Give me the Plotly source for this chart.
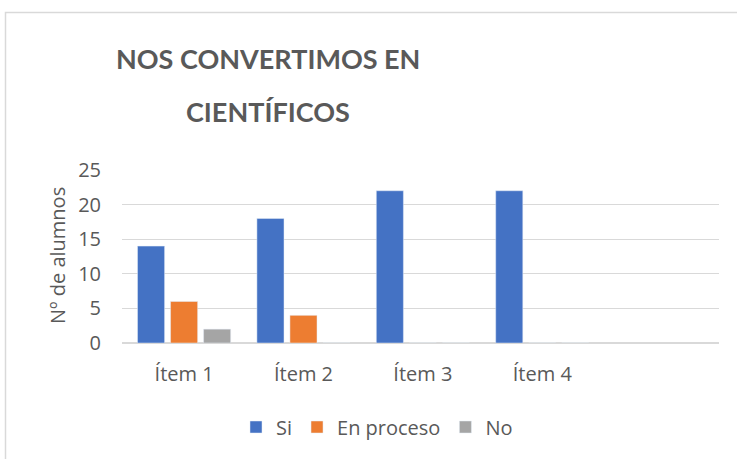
import plotly.graph_objects as go

categories = ["Ítem 1", "Ítem 2", "Ítem 3", "Ítem 4"]
si = [14, 18, 22, 22]
en_proceso = [6, 4, 0, 0]
no = [2, 0, 0, 0]
y_ticks = [0, 5, 10, 15, 20, 25]
title_lines = ["NOS CONVERTIMOS EN", "CIENTÍFICOS"]
y_title = "Nº de alumnos"

TXT = "#595959"
FONT = "Open Sans, Lato, DejaVu Sans, sans-serif"

# plot area in pixels
L, R, T, B = 122, 719, 170, 343
W, H = 737, 459
pw, ph = R - L, B - T

def px(x):
    return (x - L) / pw

def py(y):
    return (B - y) / ph

fig = go.Figure()
fig.add_trace(go.Bar(name="Si", x=categories, y=si, marker_color="#4472C4"))
fig.add_trace(go.Bar(name="En proceso", x=categories, y=en_proceso, marker_color="#ED7D31"))
fig.add_trace(go.Bar(name="No", x=categories, y=no, marker_color="#A5A5A5"))

fig.update_layout(
    width=W, height=H,
    margin=dict(l=L, r=W - R, t=T, b=H - B, pad=0),
    paper_bgcolor="white", plot_bgcolor="white",
    barmode="group", bargap=0.17, bargroupgap=0.18,
    font=dict(family=FONT, size=20, color=TXT),
    showlegend=True,
    legend=dict(orientation="h", x=px(377), y=py(427), xanchor="center", yanchor="middle",
                font=dict(family=FONT, size=20, color=TXT), itemwidth=30,
                bgcolor="rgba(0,0,0,0)"),
)

fig.update_xaxes(
    type="category", categoryorder="array", categoryarray=categories,
    range=[-0.52, 4.48], showgrid=False, zeroline=False, showline=False,
    ticks="", ticklabelstandoff=17,
    tickfont=dict(family=FONT, size=20, color=TXT), fixedrange=True,
)
fig.update_yaxes(
    range=[0, 25], tickvals=y_ticks, showgrid=True, gridcolor="#D9D9D9", gridwidth=1,
    zeroline=True, zerolinecolor="#D9D9D9", zerolinewidth=1.5, showline=False,
    ticks="", ticklabelstandoff=20,
    tickfont=dict(family=FONT, size=20, color=TXT), fixedrange=True,
)

# Title lines
title_font = dict(family="Lato, Open Sans, sans-serif", size=27, color=TXT, weight="bold")
fig.add_annotation(text=f"<b>{title_lines[0]}</b>", xref="paper", yref="paper",
                   x=px(267.5), y=py(59), xanchor="center", yanchor="middle",
                   showarrow=False, font=title_font)
fig.add_annotation(text=f"<b>{title_lines[1]}</b>", xref="paper", yref="paper",
                   x=px(268), y=py(111), xanchor="center", yanchor="middle",
                   showarrow=False, font=title_font)

# Y axis title
fig.add_annotation(text=y_title, xref="paper", yref="paper",
                   x=px(57), y=py(256), xanchor="center", yanchor="middle",
                   textangle=-90, showarrow=False,
                   font=dict(family=FONT, size=20, color=TXT))

# Chart frame (cropped: only top and left edges visible)
fig.add_shape(type="path", xref="paper", yref="paper",
              path=f"M {px(5.5)},{py(470)} L {px(5.5)},{py(12.5)} L {px(745)},{py(12.5)}",
              line=dict(color="#D9D9D9", width=1.5))

fig.write_html("out.html", config={"displayModeBar": False},
               post_script="document.body.style.margin='0px';")
